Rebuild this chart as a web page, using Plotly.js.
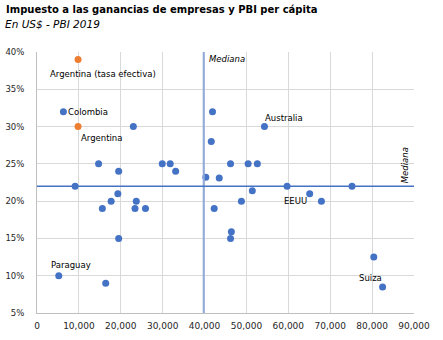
<!DOCTYPE html>
<html>
<head>
<meta charset="utf-8">
<script src="https://cdn.plot.ly/plotly-3.0.1.min.js"></script>
<style>html,body{margin:0;padding:0;background:#fff;}#chart{width:443px;height:340px;}</style>
</head>
<body>
<div id="chart"></div>
<script>
// GDP per capita (US$ 2019) and corporate income tax rate (%)
const blueGdp  = [6300, 23000, 14700, 19500, 29900, 31800, 33100, 40300, 41900, 54300, 41600, 46200, 50400, 52600, 43500, 9100, 19300, 17700, 23700, 15600, 23400, 25900, 19500, 5200, 16400, 42300, 59700, 75200, 51400, 48800, 65100, 67900, 46400, 46200, 80400, 82500];
const blueRate = [32, 30, 25, 24, 25, 25, 24, 23.2, 32, 30, 28, 25, 25, 25, 23.1, 22, 21, 20, 20, 19, 19, 19, 15, 10, 9, 19, 22, 22, 21.4, 20, 21, 20, 15.9, 15, 12.5, 8.5];
const blueNames = ["Colombia", "", "", "", "", "", "", "", "", "Australia", "", "", "", "", "", "", "", "", "", "", "", "", "", "Paraguay", "", "", "", "", "", "", "EEUU", "", "", "", "", "Suiza"];
const argGdp  = [9800, 9800];
const argRate = [39, 30];
const argNames = ["Argentina (tasa efectiva)", "Argentina"];
const medianGdp = 39800;
const medianRate = 22;
const xTickVals = [0, 10000, 20000, 30000, 40000, 50000, 60000, 70000, 80000, 90000];
const xTickText = ["0", "10,000", "20,000", "30,000", "40,000", "50,000", "60,000", "70,000", "80,000", "90,000"];
const yTickVals = [5, 10, 15, 20, 25, 30, 35, 40];
const yTickText = ["5%", "10%", "15%", "20%", "25%", "30%", "35%", "40%"];

// label offsets in px (style only)
const labelShift = {
  "Colombia": [25, 0],
  "Australia": [20, 9],
  "Paraguay": [12, 11],
  "EEUU": [-14, -7],
  "Suiza": [-12, 9],
  "Argentina (tasa efectiva)": [25, -15],
  "Argentina": [23, -11]
};

const W = 443, H = 340;
const M = {l: 37, r: 29, t: 52, b: 27};
const pw = W - M.l - M.r, ph = H - M.t - M.b;

const font = "DejaVu Sans, Verdana, sans-serif";

const annotations = [];
function addLabels(xs, ys, names) {
  names.forEach((n, i) => {
    if (!n) return;
    const s = labelShift[n] || [0, 0];
    annotations.push({x: xs[i], y: ys[i], xref: 'x', yref: 'y', text: n, showarrow: false,
      xshift: s[0], yshift: s[1], font: {family: font, size: 8.5, color: '#000'}});
  });
}
addLabels(blueGdp, blueRate, blueNames);
addLabels(argGdp, argRate, argNames);

annotations.push({xref: 'paper', yref: 'paper', x: (4 - M.l) / pw, y: 1 + (M.t - 10) / ph,
  xanchor: 'left', yanchor: 'middle', showarrow: false,
  text: '<b>Impuesto a las ganancias de empresas y PBI per cápita</b>',
  font: {family: font, size: 10, color: '#000'}});
annotations.push({xref: 'paper', yref: 'paper', x: (3 - M.l) / pw, y: 1 + (M.t - 24) / ph,
  xanchor: 'left', yanchor: 'middle', showarrow: false,
  text: '<i>En US$ - PBI 2019</i>',
  font: {family: font, size: 10.5, color: '#000'}});
annotations.push({x: medianGdp, y: 40, xref: 'x', yref: 'y', xanchor: 'left', yanchor: 'top',
  xshift: 3, yshift: 0, showarrow: false, text: '<i>Mediana</i>',
  font: {family: font, size: 8.5, color: '#000'}});
annotations.push({x: 90000, y: medianRate, xref: 'x', yref: 'y', xanchor: 'right', yanchor: 'bottom',
  textangle: -90, xshift: -2, yshift: 1, showarrow: false, text: '<i>Mediana</i>',
  font: {family: font, size: 8.5, color: '#000'}});

const traces = [
  {x: blueGdp, y: blueRate, type: 'scatter', mode: 'markers', hoverinfo: 'none',
   marker: {color: '#4472c4', size: 7}},
  {x: argGdp, y: argRate, type: 'scatter', mode: 'markers', hoverinfo: 'none',
   marker: {color: '#ed7d31', size: 7}}
];

const layout = {
  width: W, height: H, margin: M, showlegend: false,
  paper_bgcolor: '#fff', plot_bgcolor: '#fff',
  font: {family: font, size: 9, color: '#404040'},
  xaxis: {range: [0, 90000], tickmode: 'array', tickvals: xTickVals, ticktext: xTickText, showgrid: true, gridcolor: '#d9d9d9',
    gridwidth: 1, zeroline: false, showline: true, linecolor: '#bfbfbf', linewidth: 1, ticks: '',
    ticklabelstandoff: 4,
    tickfont: {family: font, size: 9, color: '#262626'}, fixedrange: true},
  yaxis: {range: [5, 40], tickmode: 'array', tickvals: yTickVals, ticktext: yTickText, showgrid: true, gridcolor: '#d9d9d9',
    gridwidth: 1, zeroline: false, showline: true, linecolor: '#bfbfbf', linewidth: 1, ticks: '',
    ticklabelstandoff: 10,
    tickfont: {family: font, size: 8.5, color: '#262626'}, fixedrange: true},
  shapes: [
    {type: 'line', xref: 'x', yref: 'y', x0: medianGdp, x1: medianGdp, y0: 5, y1: 40,
     line: {color: '#8faadc', width: 2}},
    {type: 'line', xref: 'x', yref: 'y', x0: 0, x1: 90000, y0: medianRate, y1: medianRate,
     line: {color: '#4472c4', width: 1.5}}
  ],
  annotations: annotations
};

Plotly.newPlot('chart', traces, layout, {displayModeBar: false, staticPlot: true});
</script>
</body>
</html>
